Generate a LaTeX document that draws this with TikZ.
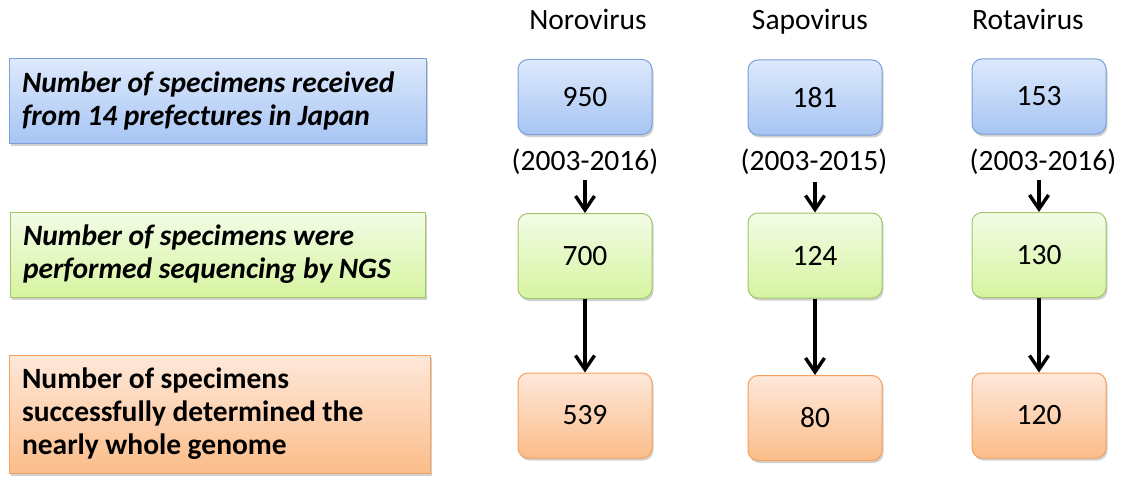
\documentclass[tikz,border=0pt]{standalone}
\usepackage{fontspec}
\setmainfont{Carlito}
\usetikzlibrary{shadows,arrows.meta}
\definecolor{bluetop}{HTML}{DDE9FC}
\definecolor{bluebot}{HTML}{A7C5F4}
\definecolor{blueline}{HTML}{7BA0D6}
\definecolor{greentop}{HTML}{F3FCE6}
\definecolor{greenbot}{HTML}{D6F4A0}
\definecolor{greenline}{HTML}{A3C66A}
\definecolor{orangetop}{HTML}{FEE8DA}
\definecolor{orangebot}{HTML}{FBBD8A}
\definecolor{orangeline}{HTML}{F5A05C}
\newcommand{\tightspace}{\spaceskip=6.5pt plus 1pt minus 1pt\relax}
\tikzset{
  shad/.style={drop shadow={shadow xshift=1.5pt,shadow yshift=-2.5pt,opacity=0.3,fill=black!60}},
  bluefill/.style={top color=bluetop,bottom color=bluebot,draw=blueline},
  greenfill/.style={top color=greentop,bottom color=greenbot,draw=greenline},
  orangefill/.style={top color=orangetop,bottom color=orangebot,draw=orangeline},
  leftbox/.style={shad,line width=1pt,inner xsep=13pt,inner ysep=0pt,align=left,anchor=center,execute at begin node=\tightspace},
  lefti/.style={font=\fontsize{29.5}{33}\selectfont\bfseries\itshape},
  leftb/.style={font=\fontsize{29.5}{33}\selectfont\bfseries},
  numbox/.style={shad,line width=1pt,rounded corners=10pt,minimum width=134pt,inner sep=0pt,font=\fontsize{29.5}{33}\selectfont},
  lbl/.style={font=\fontsize{29.5}{33}\selectfont,inner sep=0pt},
  arr/.style={line width=3.4pt,-{Straight Barb[length=14pt,width=19pt,line width=3.4pt]}},
}
\begin{document}
\begin{tikzpicture}[x=1pt,y=-1pt]
\useasboundingbox (0,0) rectangle (1123,476);
% left description boxes
\node[leftbox,bluefill,minimum width=417pt,minimum height=84pt,text width=391pt,lefti] (lb) at (217.5,101) {Number of specimens received\\from 14 prefectures in Japan};
\node[leftbox,greenfill,minimum width=415pt,minimum height=85pt,text width=389pt,lefti] (lg) at (217.5,254.5) {Number of specimens were\\performed sequencing by NGS};
\node[leftbox,orangefill,minimum width=421pt,minimum height=118pt,text width=395pt,leftb] (lo) at (219.5,414) {Number of specimens\\successfully determined the\\nearly whole genome};
% headers
\node[lbl,anchor=base] (hn) at (588,30) {Norovirus};
\node[lbl,anchor=base] (hs) at (810,30) {Sapovirus};
\node[lbl,anchor=base] (hr) at (1028,30) {Rotavirus};
% blue
\node[numbox,bluefill,minimum height=75pt] (nb) at (585,97) {950};
\node[numbox,bluefill,minimum height=75pt] (sb) at (815,97.5) {181};
\node[numbox,bluefill,minimum height=75pt] (rb) at (1039,96.5) {153};
% dates
\node[lbl] (nd) at (585,162) {(2003-2016)};
\node[lbl] (sd) at (814,162) {(2003-2015)};
\node[lbl] (rd) at (1043,162) {(2003-2016)};
% green
\node[numbox,greenfill,minimum height=85pt] (ng) at (585,256) {700};
\node[numbox,greenfill,minimum height=85pt] (sg) at (815,255.5) {124};
\node[numbox,greenfill,minimum height=85pt] (rg) at (1039,255) {130};
% orange
\node[numbox,orangefill,minimum height=85pt] (no) at (585,415.5) {539};
\node[numbox,orangefill,minimum height=85pt] (so) at (815,418) {80};
\node[numbox,orangefill,minimum height=85pt] (ro) at (1039,415.5) {120};
% arrows
\draw[arr,shorten <=5pt] (nd.south -| ng.north) -- (ng.north);
\draw[arr,shorten <=7pt] (sd.south -| sg.north) -- (sg.north);
\draw[arr,shorten <=5pt] (rd.south -| rg.north) -- (rg.north);
\draw[arr] (ng.south) -- (no.north);
\draw[arr] (sg.south) -- (so.north);
\draw[arr] (rg.south) -- (ro.north);
\end{tikzpicture}
\end{document}
